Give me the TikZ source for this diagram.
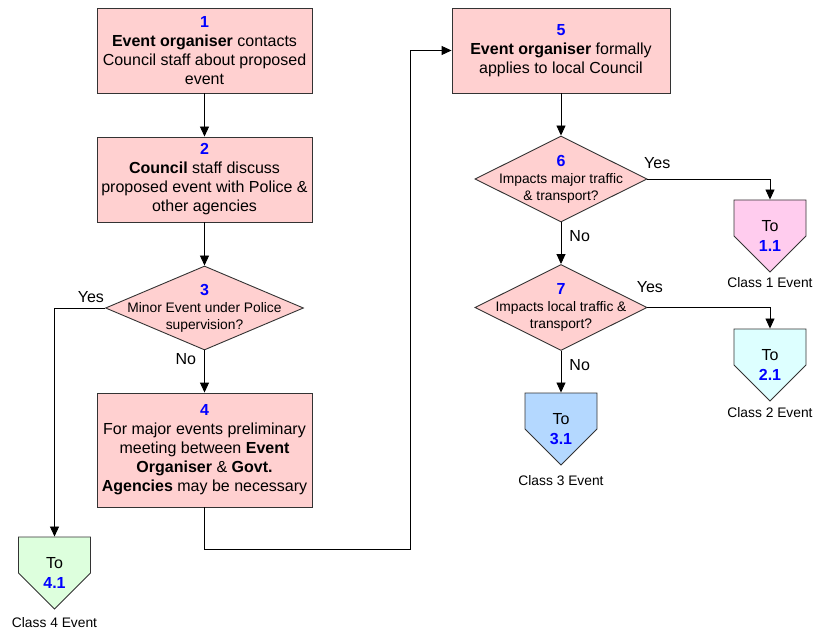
\documentclass[tikz,border=0pt]{standalone}
\usepackage{fontspec}
\setmainfont{Liberation Sans}
\usetikzlibrary{shapes.geometric,shapes.symbols,arrows.meta}

\definecolor{boxpink}{HTML}{FFD0D0}
\definecolor{cone}{HTML}{FFCCEE}
\definecolor{ctwo}{HTML}{DDFFFF}
\definecolor{cthree}{HTML}{B4D8FF}
\definecolor{cfour}{HTML}{DDFFDD}
\newcommand{\stepno}[1]{{\color{blue}\bfseries\fontsize{16}{19}\selectfont #1}}

\tikzset{
  stepbox/.style={draw=black!80, fill=boxpink, minimum width=215pt, minimum height=85pt,
    align=center, inner sep=0pt, font=\fontsize{16}{19}\selectfont},
  decision/.style={diamond, draw=black!80, fill=boxpink, inner sep=0pt},
  dtext/.style={align=center, inner sep=0pt, font=\fontsize{13.8}{17}\selectfont},
  goto/.style={signal, signal to=south, signal from=nowhere, signal pointer angle=90,
    draw=black!80, minimum width=72pt, minimum height=36pt, inner sep=0pt},
  gtext/.style={align=center, inner sep=0pt, yshift=-18pt, font=\fontsize{16}{20}\selectfont},
  cls/.style={inner sep=0pt, font=\fontsize{13.8}{16}\selectfont},
  lbl/.style={inner sep=1pt, font=\fontsize{16}{19}\selectfont}
}

\begin{document}
\begin{tikzpicture}[x=1pt, y=-1pt, >={Triangle[length=10pt,width=9pt]}, line width=0.9pt]
  \useasboundingbox (0,0) rectangle (822,631);

  % left column
  \node[stepbox] (s1) at (204.5,50.5) {\stepno{1}\\\textbf{Event organiser} contacts\\Council staff about proposed\\event};
  \node[stepbox] (s2) [node distance=129pt, below of=s1] {\stepno{2}\\\textbf{Council} staff discuss\\proposed event with Police \&\\other agencies};
  \node[decision, minimum width=198pt, minimum height=84pt,
    label={[dtext]center:{\stepno{3}\\Minor Event under Police\\supervision?}}] (d3) [node distance=128.5pt, below of=s2] {};
  \node[stepbox, minimum height=114pt] (s4) [node distance=142pt, below of=d3] {\stepno{4}\\For major events preliminary\\meeting between \textbf{Event}\\\textbf{Organiser} \& \textbf{Govt.}\\\textbf{Agencies} may be necessary};
  \node[goto, fill=cfour, label={[gtext]center:{To\\\stepno{4.1}}},
    label={[cls, label distance=7pt]below:Class 4 Event}] (c4) at (54.5,555) {};

  % right column
  \node[stepbox, minimum width=218pt] (s5) at (561,50.5) {\stepno{5}\\\textbf{Event organiser} formally\\applies to local Council};
  \node[decision, minimum width=172pt, minimum height=86pt,
    label={[dtext]center:{\stepno{6}\\Impacts major traffic\\\& transport?}}] (d6) [node distance=128.5pt, below of=s5] {};
  \node[decision, minimum width=172pt, minimum height=86pt,
    label={[dtext]center:{\stepno{7}\\Impacts local traffic \&\\transport?}}] (d7) [node distance=128.5pt, below of=d6] {};
  \node[goto, fill=cthree, label={[gtext]center:{To\\\stepno{3.1}}},
    label={[cls, label distance=9pt]below:Class 3 Event}] (c3) at (561,411) {};
  \node[goto, fill=cone, label={[gtext]center:{To\\\stepno{1.1}}},
    label={[cls, label distance=4pt]below:Class 1 Event}] (c1) at (770,218) {};
  \node[goto, fill=ctwo, label={[gtext]center:{To\\\stepno{2.1}}},
    label={[cls, label distance=5pt]below:Class 2 Event}] (c2) at (770,347) {};
  \coordinate (turn) at (410,549);

  \draw[->] (s1) -- (s2);
  \draw[->] (s2) -- (d3);
  \draw[->] (d3) -- node[lbl, pos=0.21, left=7pt] {No} (s4);
  \draw[->] (d3) -| node[lbl, pos=0.14, above=4pt] {Yes} (c4);
  \draw[->] (s4) |- (turn) |- (s5);
  \draw[->] (s5) -- (d6);
  \draw[->] (d6) -- node[lbl, pos=0.33, right=7pt] {No} (d7);
  \draw[->] (d6) -| node[lbl, pos=0.04, above=9pt] {Yes} (c1);
  \draw[->] (d7) -- node[lbl, pos=0.33, right=7pt] {No} (c3);
  \draw[->] (d7) -| node[lbl, pos=0.01, above=13pt] {Yes} (c2);
\end{tikzpicture}
\end{document}
